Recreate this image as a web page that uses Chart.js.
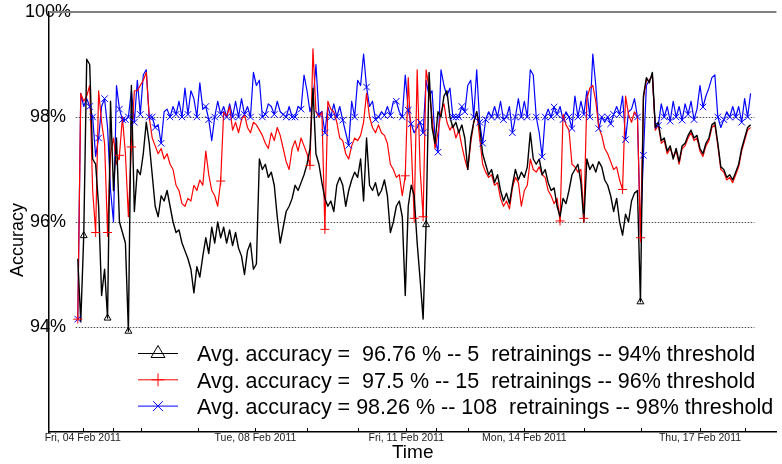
<!DOCTYPE html>
<html>
<head>
<meta charset="utf-8">
<title>Accuracy over time</title>
<script src="https://cdn.jsdelivr.net/npm/chart.js@4.4.1/dist/chart.umd.min.js"></script>
<style>
  html, body { margin: 0; padding: 0; background: #ffffff; }
  canvas { display: block; }
</style>
</head>
<body>
<canvas id="acc" width="782" height="464"></canvas>
<script>
// Samples are evenly spaced in time index (one per measurement window).
// Accuracy in percent, 94% retraining threshold.
const blackAcc = [
  95.3, 94.1, 95.74, 99.1, 99.0, 97.2, 97.1, 96.3, 94.6, 95.1,
  94.17, 98.3, 96.6, 97.6, 96.0, 95.8, 95.6, 93.92, 98.6, 96.2,
  97.0, 96.9, 97.3, 97.9, 97.5, 96.9, 96.3, 96.1, 96.5, 96.4,
  96.6, 96.3, 96.0, 95.8, 95.85, 95.6, 95.45, 95.3, 95.1, 94.65,
  95.15, 94.95, 95.35, 95.7, 95.4, 95.9, 95.6, 96.0, 95.7, 95.9,
  95.6, 95.85, 95.55, 95.8, 95.5, 95.35, 95.0, 95.45, 95.6, 95.1,
  95.2, 97.2, 97.0, 97.1, 96.85, 96.95, 96.7, 96.1, 95.6, 95.9,
  96.2, 96.3, 96.45, 96.7, 96.6, 96.75, 96.9, 97.1, 97.4, 98.55,
  97.3, 97.1, 96.75, 96.45, 96.3, 96.4, 96.2, 96.7, 96.85, 96.7,
  96.3, 96.6, 96.8, 96.95, 96.85, 97.2, 96.4, 97.6, 96.7, 96.6,
  96.75, 96.5, 96.6, 96.8, 96.5, 95.8, 96.0, 96.3, 96.4, 96.1,
  94.6, 96.3, 96.7, 96.5, 95.6, 94.9, 94.15, 95.95, 98.85, 97.8,
  97.5, 98.1, 98.0, 98.4, 98.5, 98.0, 97.8, 97.9, 97.7, 97.85,
  97.6, 97.0, 97.6, 97.9, 98.1, 97.8, 97.3, 97.1, 96.9, 97.0,
  96.75, 96.9, 96.6, 96.4, 96.55, 96.35, 96.7, 97.0, 96.8, 96.95,
  96.85, 97.05, 97.7, 97.2, 97.1, 97.2, 96.9, 97.0, 96.75, 96.6,
  96.65, 96.3, 96.1, 96.45, 96.35, 96.6, 96.9, 97.0, 97.1, 96.75,
  96.0, 97.2, 97.0, 97.1, 96.95, 97.15, 97.05, 96.8, 96.7, 96.5,
  96.2, 96.45, 96.0, 95.75, 96.15, 96.0, 96.4, 96.55, 96.6, 94.48,
  98.4, 98.75, 98.65, 98.85, 97.8, 97.9, 97.55, 97.6, 97.35, 97.45,
  97.2, 97.4, 97.15, 97.45, 97.5, 97.65, 97.75, 97.6, 97.65, 97.4,
  97.3, 97.5, 97.6, 97.85, 97.9, 97.5, 97.05, 97.0, 96.85, 96.9,
  96.8, 96.95, 97.1, 97.4, 97.6, 97.8, 97.85
];

// 96% retraining threshold
const redAcc = [
  94.15, 98.45, 98.3, 98.4, 98.6, 96.6, 95.8, 98.5, 97.9, 97.5,
  95.8, 97.3, 97.6, 97.1, 97.27, 98.0, 97.3, 96.1, 97.43, 98.5,
  98.5, 98.6, 98.7, 98.85, 98.0, 97.6, 97.45, 97.3, 97.4, 97.2,
  97.3, 97.1, 97.0, 96.7, 96.6, 96.35, 96.3, 96.45, 96.4, 96.7,
  96.6, 96.8, 96.7, 97.35, 96.9, 96.6, 96.5, 96.3, 96.78, 98.1,
  98.0, 98.2, 97.75, 97.9, 97.7, 97.95, 98.05, 97.8, 97.7, 97.9,
  97.85, 97.75, 97.65, 97.5, 97.4, 97.7, 97.55, 97.8, 97.65, 97.4,
  97.15, 97.0, 97.4, 97.55, 97.35, 97.6, 97.45, 97.3, 97.08, 99.3,
  98.1, 98.0, 98.1, 95.86, 98.3, 98.15, 98.1, 97.9, 97.6, 97.55,
  97.3, 97.2, 97.45, 97.6, 97.55, 97.65, 97.9, 98.45, 98.0, 97.8,
  97.7, 97.85, 97.7, 97.65, 97.5, 97.1, 97.0, 96.85, 96.9, 96.5,
  96.88, 98.75, 97.5, 96.07, 98.9, 97.0, 96.1, 98.9, 98.55, 98.0,
  97.4, 97.7, 98.1, 98.25, 97.9, 97.75, 97.85, 97.6, 97.75, 97.45,
  97.2, 97.0, 97.5, 97.9, 98.1, 97.6, 97.1, 96.95, 96.85, 96.9,
  96.7, 96.75, 96.45, 96.3, 96.4, 96.25, 96.65, 96.85, 96.75, 96.3,
  96.6, 96.7, 97.2, 97.0, 96.95, 97.05, 96.9, 96.85, 96.6, 96.5,
  96.35, 96.45, 96.02, 98.05, 97.85, 97.75, 97.1, 97.05, 96.95, 97.0,
  96.07, 98.35, 98.55, 98.6, 98.3, 97.8, 97.65, 97.4, 97.3, 97.15,
  97.0, 97.05, 96.8, 96.62, 98.4, 98.05, 97.9, 98.1, 98.0, 95.7,
  98.35, 98.7, 98.7, 98.8, 97.75, 97.85, 97.5, 97.55, 97.3, 97.4,
  97.25, 97.35, 97.1, 97.4, 97.45, 97.6, 97.7, 97.55, 97.6, 97.35,
  97.25, 97.45, 97.55, 97.8, 97.85, 97.45, 97.0, 96.95, 96.8, 96.85,
  96.75, 96.9, 97.05, 97.35, 97.55, 97.75, 97.8
];

// 98% retraining threshold
const blueAcc = [
  94.15, 98.45, 98.2, 98.35, 98.2, 98.0, 97.25, 97.6, 98.2, 98.35,
  97.8, 96.6, 96.0, 98.6, 98.15, 97.95, 97.95, 98.0, 98.5, 97.9,
  98.7, 98.05, 98.8, 98.9, 98.0, 98.0, 97.8, 97.85, 97.5, 98.1,
  98.15, 98.0, 98.2, 98.05, 98.3, 98.0, 98.55, 98.05, 98.5, 98.35,
  98.0, 98.65, 98.15, 98.2, 97.95, 97.55, 98.0, 98.3, 98.05, 98.2,
  98.0, 98.25, 98.0, 98.3, 98.0, 98.35, 98.05, 98.2, 98.0, 98.85,
  98.6, 98.7, 98.0, 98.05, 98.25, 98.2, 98.05, 98.3, 98.1, 98.05,
  98.0, 98.2, 98.0, 98.0, 98.2, 98.15, 98.8, 98.5, 98.1, 98.3,
  99.0, 98.05, 98.1, 97.7, 98.2, 98.0, 98.25, 98.0, 98.2, 97.94,
  97.7, 97.46, 98.3, 98.0, 98.7, 98.6, 99.2, 98.57, 98.2, 98.3,
  97.95, 98.0, 98.1, 98.03, 98.2, 98.03, 98.3, 98.3, 98.1, 98.0,
  98.8, 98.13, 97.87, 97.7, 97.8, 97.9, 97.7, 98.7, 98.4, 98.5,
  97.6, 97.33, 98.9, 98.6, 98.4, 98.55, 98.0, 98.0, 98.0, 98.2,
  98.1, 98.6, 98.7, 98.0, 98.9, 97.9, 97.5, 97.95, 98.1, 98.0,
  98.2, 98.0, 98.3, 97.95, 98.0, 98.2, 97.7, 98.0, 98.35, 98.0,
  98.3, 98.0, 98.9, 98.8, 98.0, 97.7, 97.24, 98.0, 98.15, 98.0,
  98.19, 98.05, 98.2, 97.95, 98.1, 98.0, 97.78, 98.4, 98.0, 98.3,
  98.05, 98.5, 98.0, 99.2, 98.6, 97.78, 98.0, 97.9, 98.0, 97.87,
  98.05, 98.2, 98.05, 98.4, 97.57, 98.1, 98.15, 98.35, 98.0, 95.75,
  97.27, 98.6, 98.7, 98.8, 97.8, 97.84, 98.25, 98.0, 98.2, 97.92,
  98.3, 98.0, 98.2, 97.94, 98.25, 98.05, 98.3, 97.95, 98.15, 98.6,
  98.19, 98.4, 98.55, 98.75, 98.8, 98.0, 97.8, 97.95, 98.1, 98.0,
  98.2, 98.0, 98.2, 97.9, 98.35, 98.0, 98.45
];

// Sample indices at which the classifier was retrained
const blackRetrain = [2, 10, 17, 117, 189];
const redRetrain = [0, 6, 10, 14, 18, 48, 78, 83, 110, 113, 116, 162, 170, 183, 189];
const blueRetrain = [
  0, 4, 5, 7, 9, 14, 15, 16, 17, 19, 21, 24, 25, 26, 28, 31, 33, 35, 37, 40,
  43, 44, 46, 48, 50, 52, 54, 56, 58, 62, 63, 66, 69, 70, 72, 73, 75, 81, 83, 85,
  87, 89, 91, 93, 97, 100, 101, 103, 105, 107, 109, 111, 112, 115, 116, 121, 126, 127, 128, 129,
  130, 133, 135, 136, 137, 139, 141, 143, 144, 146, 147, 149, 151, 154, 156, 157, 159, 160, 161, 163,
  165, 166, 168, 170, 172, 175, 176, 178, 179, 180, 182, 184, 188, 190, 195, 197, 199, 201, 203, 205,
  207, 210, 215, 217, 219, 221, 223, 225
];

// Summary figures shown in the key
const avgAccuracy = [' 96.76', ' 97.5', '98.26'];
const thresholds = [94, 96, 98];

// Day boundaries on the sample axis and their labels
const dayTickPos = [1.67, 11.67, 21.33, 40.33, 59.67, 77, 94, 110.33, 120.33, 131, 150, 170, 189.33, 209, 224];
const dayTickLabels = ['Fri, 04 Feb 2011', '', '', '', 'Tue, 08 Feb 2011', '', '', 'Fri, 11 Feb 2011', '', '',
                       'Mon, 14 Feb 2011', '', '', 'Thu, 17 Feb 2011', ''];
const yTickValues = [94, 96, 98, 100];
const refLines = [94, 96, 98];

const FONT = '"Liberation Sans", Arial, Helvetica, sans-serif';
Chart.defaults.font.family = FONT;

const series = [
  { values: blackAcc, marks: blackRetrain, color: '#000000', width: 1.4, style: 'triangle', r: 4,   legR: 8 },
  { values: redAcc,   marks: redRetrain,   color: '#ff0000', width: 1.2, style: 'cross',    r: 4.5, legR: 6.5 },
  { values: blueAcc,  marks: blueRetrain,  color: '#0000ff', width: 1.2, style: 'crossRot', r: 4.6, legR: 7 }
];

const keyText = k =>
  `Avg. accuracy = ${avgAccuracy[k]} % -- ${series[k].marks.length}  retrainings -- ${thresholds[k]}% threshold`;

// Lower dataset index is painted last, so markers sit on top, then black, red, blue.
const markerSets = series.map(s => ({
  data: s.marks.map(i => ({ x: i, y: s.values[i] })),
  showLine: false,
  pointStyle: s.style,
  pointRadius: s.r,
  pointBorderColor: s.color,
  pointBackgroundColor: 'rgba(0,0,0,0)',
  pointBorderWidth: 1,
  borderColor: s.color
}));
const lineSets = series.map(s => ({
  data: s.values.map((v, i) => ({ x: i, y: v })),
  borderColor: s.color,
  borderWidth: s.width,
  borderJoinStyle: 'round',
  pointRadius: 0,
  tension: 0,
  fill: false
}));

function markerPath(ctx, style, x, y, r) {
  ctx.beginPath();
  if (style === 'triangle') {
    ctx.moveTo(x, y - r);
    ctx.lineTo(x + 0.866 * r, y + 0.5 * r);
    ctx.lineTo(x - 0.866 * r, y + 0.5 * r);
    ctx.closePath();
  } else if (style === 'cross') {
    ctx.moveTo(x - r, y); ctx.lineTo(x + r, y);
    ctx.moveTo(x, y - r); ctx.lineTo(x, y + r);
  } else {
    const d = r * Math.SQRT1_2;
    ctx.moveTo(x - d, y - d); ctx.lineTo(x + d, y + d);
    ctx.moveTo(x - d, y + d); ctx.lineTo(x + d, y - d);
  }
  ctx.stroke();
}

const decorations = {
  id: 'decorations',
  beforeDatasetsDraw(chart) {
    const { ctx, chartArea: a, scales: { x, y } } = chart;
    ctx.save();
    // dotted threshold lines spanning the sampled period
    ctx.strokeStyle = '#4d4d4d';
    ctx.lineWidth = 1.2;
    ctx.setLineDash([1.5, 1.5]);
    const gx0 = x.getPixelForValue(-0.7);
    const gx1 = x.getPixelForValue(blackAcc.length + 0.3);
    refLines.forEach(v => {
      const py = Math.round(y.getPixelForValue(v)) + 0.5;
      ctx.beginPath(); ctx.moveTo(gx0, py); ctx.lineTo(gx1, py); ctx.stroke();
    });
    ctx.setLineDash([]);
    // upper frame line
    const ty = y.getPixelForValue(y.max);
    ctx.strokeStyle = '#808080';
    ctx.lineWidth = 2;
    ctx.beginPath(); ctx.moveTo(a.left, ty); ctx.lineTo(a.right, ty); ctx.stroke();
    ctx.restore();
  },
  afterDatasetsDraw(chart) {
    const { ctx, chartArea: a, scales: { x } } = chart;
    ctx.save();
    // inward day tick marks
    ctx.strokeStyle = '#000';
    ctx.lineWidth = 1;
    dayTickPos.forEach(v => {
      const px = Math.round(x.getPixelForValue(v)) + 0.5;
      ctx.beginPath(); ctx.moveTo(px, a.bottom); ctx.lineTo(px, a.bottom - 4); ctx.stroke();
    });
    // vertical axis title
    ctx.save();
    ctx.translate(18, 240);
    ctx.rotate(-Math.PI / 2);
    ctx.fillStyle = '#000';
    ctx.font = `18px ${FONT}`;
    ctx.textAlign = 'center';
    ctx.textBaseline = 'middle';
    ctx.fillText('Accuracy', 0, 0);
    ctx.restore();
    // key
    const LX0 = 138, LX1 = 178, TX = 197, LY0 = 353.5, LDY = 26.3;
    ctx.font = `21.5px ${FONT}`;
    ctx.textAlign = 'left';
    ctx.textBaseline = 'alphabetic';
    series.forEach((s, k) => {
      const ly = LY0 + k * LDY;
      ctx.strokeStyle = s.color;
      ctx.lineWidth = 1;
      ctx.beginPath(); ctx.moveTo(LX0, ly); ctx.lineTo(LX1, ly); ctx.stroke();
      markerPath(ctx, s.style, (LX0 + LX1) / 2, ly, s.legR);
      ctx.fillStyle = '#000';
      ctx.fillText(keyText(k), TX, ly + 7.7);
    });
    ctx.restore();
  }
};

new Chart(document.getElementById('acc'), {
  type: 'line',
  data: { datasets: [...markerSets, ...lineSets] },
  options: {
    responsive: false,
    animation: false,
    devicePixelRatio: 1,
    events: [],
    layout: { padding: { top: 12, left: 0, right: 0, bottom: 0 } },
    plugins: { legend: { display: false }, tooltip: { enabled: false } },
    scales: {
      x: {
        type: 'linear',
        min: -9.67,
        max: 234.67,
        afterBuildTicks: s => { s.ticks = dayTickPos.map(v => ({ value: v })); },
        afterFit: s => { s.height = 32; },
        grid: { display: false, drawTicks: false },
        border: { display: true, color: '#000', width: 1.5 },
        ticks: {
          autoSkip: false,
          maxRotation: 0,
          minRotation: 0,
          padding: 0,
          color: '#1a1a1a',
          font: { size: 10.5 },
          callback: (v, i) => dayTickLabels[i]
        },
        title: { display: true, text: 'Time', color: '#000', font: { size: 19 }, padding: { top: 0, bottom: 0 } }
      },
      y: {
        min: 92,
        max: 100,
        afterBuildTicks: s => { s.ticks = yTickValues.map(v => ({ value: v })); },
        afterFit: s => { s.width = 49; },
        grid: { display: false, drawTicks: false },
        border: { display: true, color: '#000', width: 1.5 },
        ticks: {
          color: '#000',
          font: { size: 18 },
          mirror: true,
          crossAlign: 'center',
          padding: -24,
          callback: v => v + '%'
        }
      }
    }
  },
  plugins: [decorations]
});
</script>
</body>
</html>
